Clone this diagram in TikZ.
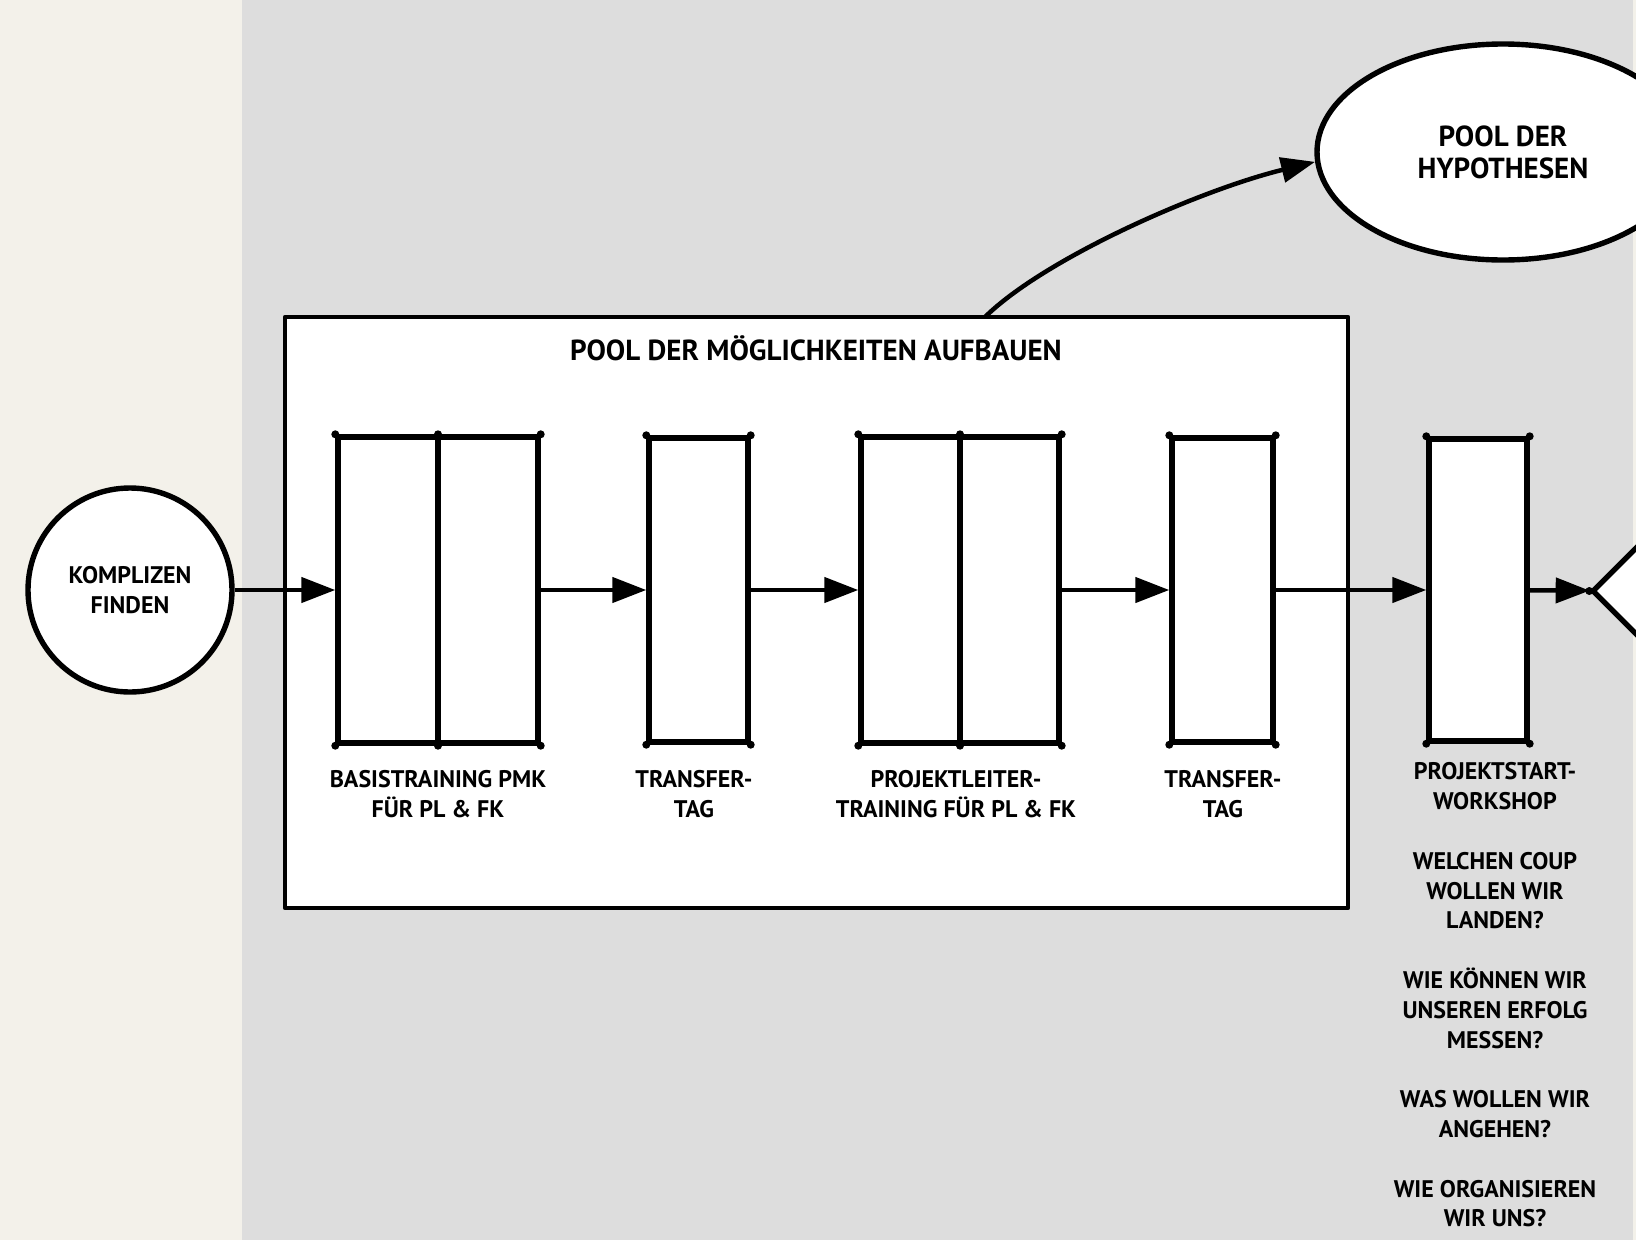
\documentclass[tikz,border=0pt]{standalone}
\usepackage{fontspec}
\setmainfont{PT Sans}
\usetikzlibrary{arrows.meta,shapes.geometric}
\definecolor{beigebg}{RGB}{243,241,234}
\definecolor{panelbg}{RGB}{221,221,221}
\tikzset{
  ln/.style={line width=5.4pt, line cap=round, line join=round},
  boxs/.style={ln, draw=black, fill=white, rectangle, inner sep=0pt},
  lbl/.style={font=\bfseries\fontsize{24}{29.8}\selectfont, align=center, inner sep=0pt},
  biglbl/.style={font=\bfseries\fontsize{29}{32}\selectfont, align=center, inner sep=0pt},
  arr/.style={line width=4.5pt, line cap=butt, -{Triangle[length=34pt,width=25pt]}},
  dot/.style={fill=black},
}
\begin{document}
\begin{tikzpicture}[x=1pt,y=-1pt]
\useasboundingbox (0,0) rectangle (1636,1240);
\clip (0,0) rectangle (1636,1240);
\fill[beigebg] (0,0) rectangle (1636,1240);
\fill[panelbg] (242,0) rectangle (1633,1240);

% big container
\node[boxs, line width=4.6pt, minimum width=1063pt, minimum height=591pt] (big) at (816.5,612.5) {};
\node[biglbl] (title) at (816,348) {POOL DER MÖGLICHKEITEN AUFBAUEN};

% start circle
\node[ln, draw, fill=white, circle, minimum size=204pt, inner sep=0pt, lbl] (start) at (130,590) {KOMPLIZEN\\FINDEN};

% ellipse
\node[ln, draw, fill=white, ellipse, minimum width=372pt, minimum height=216pt, inner sep=0pt, biglbl] (hyp) at (1503,152) {POOL DER\\HYPOTHESEN};

% process boxes
\node[boxs, minimum width=200pt, minimum height=306pt] (b1) at (438,590) {};
\node[boxs, minimum width=99pt, minimum height=304pt] (b2) at (698.5,590) {};
\node[boxs, minimum width=198pt, minimum height=306pt] (b3) at (960,590) {};
\node[boxs, minimum width=101pt, minimum height=304pt] (b4) at (1222.5,590) {};
\node[boxs, minimum width=98pt, minimum height=302pt] (b5) at (1478,590) {};
\draw[ln] (b1.north) -- (b1.south);
\draw[ln] (b3.north) -- (b3.south);

% diamond (clipped)
\node[ln, draw, fill=white, diamond, minimum width=140pt, minimum height=140pt, inner sep=0pt] (dia) at (1662,591) {};

% corner dots
\foreach \n in {b1,b2,b3,b4,b5}
  \foreach \a in {north west,north east,south west,south east}
    \fill[dot] (\n.\a) circle (4pt);
\foreach \n in {b1,b3}
  \foreach \a in {north,south}
    \fill[dot] (\n.\a) circle (4pt);
\fill[dot] (dia.west) circle (4pt);

% labels
\node[lbl] (l1) at (438,794) {BASISTRAINING PMK\\FÜR PL \& FK};
\node[lbl] (l2) at (694,794) {TRANSFER-\\TAG};
\node[lbl] (l3) at (956,794) {PROJEKTLEITER-\\TRAINING FÜR PL \& FK};
\node[lbl] (l4) at (1223,794) {TRANSFER-\\TAG};
\node[lbl] (l5) at (1495,995) {PROJEKTSTART-\\WORKSHOP\\[29.8pt]WELCHEN COUP\\WOLLEN WIR\\LANDEN?\\[29.8pt]WIE KÖNNEN WIR\\UNSEREN ERFOLG\\MESSEN?\\[29.8pt]WAS WOLLEN WIR\\ANGEHEN?\\[29.8pt]WIE ORGANISIEREN\\WIR UNS?};

% connectors
\draw[arr] (start) -- (b1);
\draw[arr] (b1) -- (b2);
\draw[arr] (b2) -- (b3);
\draw[arr] (b3) -- (b4);
\draw[arr] (b4) -- (b5);
\draw[arr] (b5) -- (dia);
\coordinate (cs) at (985,317);
\draw[arr] (cs) .. controls (1045,258) and (1200,190) .. (hyp.183);
\end{tikzpicture}
\end{document}
